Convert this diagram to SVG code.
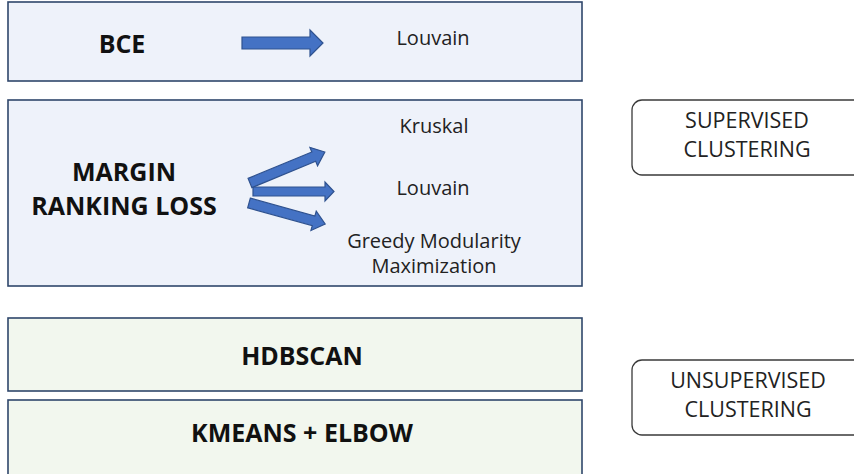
<svg xmlns="http://www.w3.org/2000/svg" width="854" height="474" viewBox="0 0 854 474">
  <style>
    .loss { fill: #EEF2FA; stroke: #2F466B; stroke-width: 1.6; }
    .unsup { fill: #F2F7EE; stroke: #2F466B; stroke-width: 1.6; }
    .tag { fill: #FFFFFF; stroke: #3A3A3A; stroke-width: 1.3; }
    .arrow { fill: #4472C4; stroke: #2F528F; stroke-width: 1.2; stroke-linejoin: miter; }
    .big { font-family: "Open Sans", "Liberation Sans", sans-serif; font-weight: 700; font-size: 25px; fill: #111111; text-anchor: middle; }
    .small { font-family: "Open Sans", "Liberation Sans", sans-serif; font-size: 20px; fill: #222222; text-anchor: middle; }
    .caps { font-family: "Open Sans", "Liberation Sans", sans-serif; font-size: 21.5px; fill: #222222; text-anchor: middle; }
  </style>

  <rect width="854" height="474" fill="#FFFFFF"/>

  <!-- loss function boxes -->
  <g id="bce">
    <rect class="loss" x="8" y="2" width="574" height="79"/>
    <text class="big" x="122" y="53">BCE</text>
    <text class="small" x="433" y="45">Louvain</text>
  </g>

  <g id="margin-ranking-loss">
    <rect class="loss" x="8" y="100" width="574" height="186"/>
    <text class="big" x="124" y="181">MARGIN</text>
    <text class="big" x="124" y="215">RANKING LOSS</text>
    <text class="small" x="434" y="133">Kruskal</text>
    <text class="small" x="433" y="195">Louvain</text>
    <text class="small" x="434" y="248">Greedy Modularity</text>
    <text class="small" x="434" y="273">Maximization</text>
  </g>

  <!-- unsupervised methods -->
  <g id="hdbscan">
    <rect class="unsup" x="8" y="318" width="574" height="73"/>
    <text class="big" x="302" y="365">HDBSCAN</text>
  </g>

  <g id="kmeans-elbow">
    <rect class="unsup" x="8" y="400" width="574" height="90"/>
    <text class="big" x="302" y="442">KMEANS + ELBOW</text>
  </g>

  <!-- category tags on the right -->
  <g id="supervised-tag">
    <rect class="tag" x="632" y="100" width="240" height="75" rx="10"/>
    <text class="caps" x="747" y="128">SUPERVISED</text>
    <text class="caps" x="747" y="157">CLUSTERING</text>
  </g>

  <g id="unsupervised-tag">
    <rect class="tag" x="632" y="360" width="240" height="75" rx="10"/>
    <text class="caps" x="748" y="388">UNSUPERVISED</text>
    <text class="caps" x="748" y="417">CLUSTERING</text>
  </g>

  <!-- block arrows -->
  <g id="connectors">
    <polygon class="arrow" points="242,37 310,37 310,30 323,43 310,56 310,49 242,49"/>
    <polygon class="arrow" points="253,187 325,187 325,182 334,191.5 325,201 325,196 253,196"/>
    <polygon class="arrow" transform="translate(250,183) rotate(-22.5)" points="0,-5 69,-5 69,-10 81,0 69,10 69,5 0,5"/>
    <polygon class="arrow" transform="translate(249,203) rotate(15.4)" points="0,-5 67,-5 67,-10 79,0 67,10 67,5 0,5"/>
  </g>
</svg>
